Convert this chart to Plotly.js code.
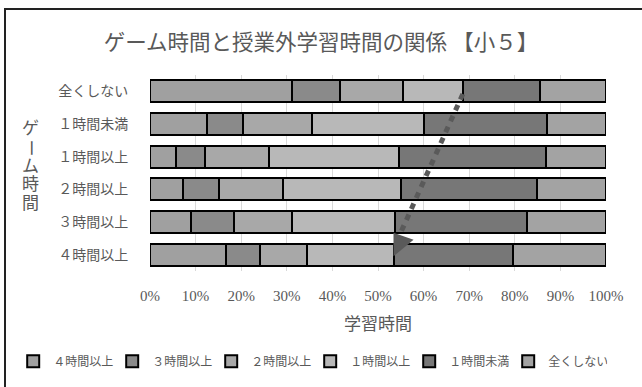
<!DOCTYPE html>
<html><head><meta charset="utf-8">
<script src="https://cdn.plot.ly/plotly-3.0.1.min.js"></script>
<style>
html,body{margin:0;padding:0;background:#fff;overflow:hidden;}
#frame{position:absolute;left:4px;top:8px;width:700px;height:500px;border:2px solid #222;box-sizing:border-box;}
#chart{position:absolute;left:0;top:0;width:642px;height:387px;}
</style>
</head><body>
<div id="frame"></div>
<div id="chart"></div>
<script>
const categories = ['全くしない','１時間未満','１時間以上','２時間以上','３時間以上','４時間以上'];
const seriesNames = ['４時間以上','３時間以上','２時間以上','１時間以上','１時間未満','全くしない'];
const s4h   = [31.2, 12.6,  5.7,  7.3,  9.0, 16.6];
const s3h   = [10.5,  7.9,  6.4,  7.8,  9.5,  7.5];
const s2h   = [13.8, 15.1, 14.1, 14.0, 12.6, 10.4];
const s1h   = [13.2, 24.4, 28.3, 25.9, 22.7, 18.9];
const sLt1  = [16.8, 27.1, 32.3, 29.8, 28.8, 26.1];
const sNone = [14.5, 12.9, 13.2, 15.2, 17.4, 20.5];
const seriesValues = [s4h, s3h, s2h, s1h, sLt1, sNone];
const colors = ['#a0a0a0','#8a8a8a','#a8a8a8','#b8b8b8','#777777','#a3a3a3'];
const xTicks = [0,10,20,30,40,50,60,70,80,90,100];

const FONT = 'Liberation Serif, "Noto Sans CJK JP", serif';
const TXT = '#595959';

const traces = seriesNames.map((n,i)=>({
  type:'bar', orientation:'h', name:n,
  x: seriesValues[i], y: categories,
  marker:{color:colors[i], line:{color:'#000', width:2}},
  hoverinfo:'skip'
}));

const vChars = ['ゲ','ー','ム','時','間'];
const annotations = vChars.map((c,i)=>({
  xref:'paper', yref:'paper', x:-0.263, y:0.725 - i*0.095,
  text:c, showarrow:false, textangle: c==='ー'?90:0,
  font:{family:FONT, size:17, color:TXT}, xanchor:'center', yanchor:'middle'
}));

const layout = {
  width:642, height:387,
  margin:{l:150, r:36, t:75, b:114},
  paper_bgcolor:'rgba(0,0,0,0)', plot_bgcolor:'rgba(0,0,0,0)',
  barmode:'stack', bargap:0.32,
  title:{text:'ゲーム時間と授業外学習時間の関係 【小５】', x:0.5, xanchor:'center', y:0.89, yanchor:'middle',
         font:{family:FONT, size:21.5, color:TXT}},
  xaxis:{range:[0,100], tickvals:xTicks, ticktext:xTicks.map(v=>v+'%'),
         showgrid:true, gridcolor:'#d9d9d9', gridwidth:1, zeroline:false, showline:false,
         ticks:'outside', ticklen:11, tickcolor:'rgba(0,0,0,0)',
         tickfont:{family:FONT, size:15, color:TXT},
         title:{text:'学習時間', font:{family:FONT, size:17, color:TXT}, standoff:15}},
  yaxis:{type:'category', categoryorder:'array', categoryarray:categories, autorange:'reversed',
         showgrid:false, zeroline:false, showline:false, ticks:'outside', ticklen:18, tickcolor:'rgba(0,0,0,0)',
         tickfont:{family:FONT, size:14, color:TXT}},
  showlegend:true,
  legend:{orientation:'h', x:-0.30, xanchor:'left', y:-0.46, yanchor:'middle',
          font:{family:FONT, size:12, color:TXT}, itemwidth:30, entrywidth:54, entrywidthmode:'pixels',
          traceorder:'normal', itemclick:false},
  annotations: annotations,
  shapes:[
    {type:'line', xref:'x', yref:'y', x0:68.6, y0:0.08, x1:55.0, y1:4.32,
     line:{color:'#5a5a5a', width:5, dash:'6px,6px'}},
    {type:'path', xref:'x', yref:'y', path:'M 53.4 4.33 L 57.8 4.54 L 53.4 5.05 Z',
     fillcolor:'#5a5a5a', line:{width:0}}
  ]
};
Plotly.newPlot('chart', traces, layout, {displayModeBar:false, staticPlot:true});
</script>
</body></html>
